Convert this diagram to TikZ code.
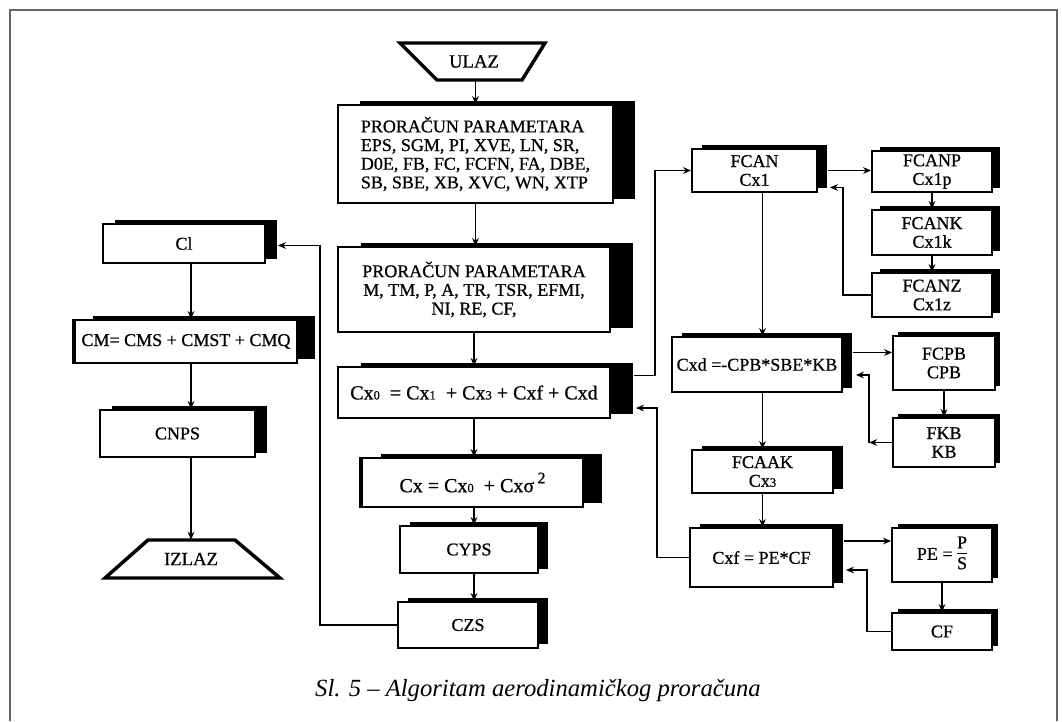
\documentclass[tikz,border=0pt]{standalone}
\usepackage{fontspec}
\setmainfont{Liberation Serif}
\newfontfamily\heavy[FakeBold=0.7]{Liberation Serif}
\usetikzlibrary{arrows.meta,shadows,calc}
\newcommand\smdig[1]{{\fontsize{9.5}{10}\selectfont #1}}
\begin{document}
\begin{tikzpicture}[x=0.75pt,y=-0.75pt,
  sbox/.style={draw, line width=1.4pt, fill=white, align=center, inner sep=1pt,
    font=\heavy\fontsize{13.5}{14}\selectfont,
    general shadow={fill=black, shadow xshift=#1, shadow yshift=3pt}},
  arr/.style={-{Stealth[length=6pt,width=5pt]}, line width=0.9pt},
  trap/.style={line width=2.6pt, line join=miter},
  big/.style={font=\heavy\fontsize{15}{16}\selectfont}]
\useasboundingbox (0,0) rectangle (1062,721);
% frame
\draw[black!60, line width=1.2pt] (10,721) -- (10,10) -- (1057,10) -- (1057,721);

% trapezia
\draw[trap] (400,43) -- (545,43) -- (522,80) -- (437,80) -- cycle;
\node[minimum height=27.75pt, inner sep=0pt, font=\heavy\fontsize{14}{14}\selectfont] (ulaz) at (474,61.5) {ULAZ};
\draw[trap] (148,540) -- (235,540) -- (280,578) -- (105,578) -- cycle;
\node[minimum height=28.5pt, inner sep=0pt, font=\heavy\fontsize{14}{14}\selectfont] (izlaz) at (191,559) {IZLAZ};

% main column
\node[sbox=16.5pt, minimum width=206.25pt, minimum height=73.5pt, align=left] (box1) at (475.5,154)
  {PRORAČUN PARAMETARA\\EPS, SGM, PI, XVE, LN, SR,\\D0E, FB, FC, FCFN, FA, DBE,\\SB, SBE, XB, XVC, WN, XTP};
\node[sbox=17.25pt, minimum width=204pt, minimum height=63.75pt] (box2) at (474,289.5)
  {PRORAČUN PARAMETARA\\M, TM, P, A, TR, TSR, EFMI,\\NI, RE, CF,};
\node[sbox=17.25pt, minimum width=204pt, minimum height=38.25pt, big] (cx0) at (474,392.5)
  {Cx\smdig{0}\ \ = Cx\smdig{1}\ \ + Cx\smdig{3} + Cxf + Cxd};
\node[sbox=14.25pt, minimum width=165.75pt, minimum height=36.75pt, big] (cx) at (472.5,482.5)
  {Cx = Cx\smdig{0}\ \ + Cxσ\,\raisebox{0.45em}{\fontsize{12}{12}\selectfont 2}};
\node[sbox=7.5pt, minimum width=103.5pt, minimum height=35.25pt] (cyps) at (469,549.5) {CYPS};
\node[sbox=7.5pt, minimum width=105pt, minimum height=34.5pt] (czs) at (468,625) {CZS};

% left column
\node[sbox=9pt, minimum width=121.5pt, minimum height=29.25pt] (cl) at (184,243.5) {Cl};
\node[sbox=13.5pt, minimum width=166.5pt, minimum height=32.25pt] (cm) at (186,341.5) {CM= CMS + CMST + CMQ};
\node[sbox=9pt, minimum width=116.25pt, minimum height=35.25pt] (cnps) at (177.5,433.5) {CNPS};
\draw[line width=3pt] (cx.north west) -- (cx.south west);
\draw[line width=3pt] (cm.north west) -- (cm.south west);

% right part
\node[sbox=7.5pt, minimum width=93.75pt, minimum height=32.25pt] (fcan) at (754.5,170.5) {FCAN\\Cx1};
\node[sbox=6pt, minimum width=90pt, minimum height=30.75pt] (fcanp) at (932,171.5) {FCANP\\Cx1p};
\node[sbox=6pt, minimum width=90pt, minimum height=33.75pt] (fcank) at (932,232.5) {FCANK\\Cx1k};
\node[sbox=6pt, minimum width=90pt, minimum height=33pt] (fcanz) at (932,295) {FCANZ\\Cx1z};
\node[sbox=7.5pt, minimum width=127.5pt, minimum height=41.25pt] (cxd) at (757,364.5) {Cxd =-CPB*SBE*KB};
\node[sbox=3.75pt, minimum width=76.5pt, minimum height=40.5pt] (fcpb) at (944,363) {FCPB\\CPB};
\node[sbox=3.75pt, minimum width=76.5pt, minimum height=36.75pt] (fkb) at (944,442.5) {FKB\\KB};
\node[sbox=7.5pt, minimum width=105.75pt, minimum height=32.25pt] (fcaak) at (762.5,471.5) {FCAAK\\Cx\smdig{3}};
\node[sbox=7.5pt, minimum width=107.25pt, minimum height=44.25pt] (cxf) at (761.5,557.5) {Cxf = PE*CF};
\node[sbox=4.5pt, minimum width=75pt, minimum height=40.5pt] (pe) at (942,555)
  {PE = \begin{tabular}{@{}c@{}}P\\[-1pt]\hline\rule{0pt}{12pt}S\end{tabular}};
\node[sbox=4.5pt, minimum width=75pt, minimum height=27.75pt] (cf) at (942,631.5) {CF};

% connectors main column
\draw[arr] (box1.north |- ulaz.south) -- (box1.north);
\draw[arr] (box1.south) -- (box1.south |- box2.north);
\draw[arr] (box2.south) -- (box2.south |- cx0.north);
\draw[arr] (cx0.south) -- (cx0.south |- cx.north);
\draw[arr] (cx0.south |- cx.south) -- (cx0.south |- cyps.north);
\draw[arr] (cx0.south |- cyps.south) -- (cx0.south |- czs.north);
\coordinate (clin) at ($(cl.east)+(12,2)$);
\draw[arr] (czs.west) -- ++(-77,0) |- (clin);

% left column
\draw[arr] (cl.south -| izlaz.north) -- (cm.north -| izlaz.north);
\draw[arr] (cm.south -| izlaz.north) -- (cnps.north -| izlaz.north);
\draw[arr] (cnps.south -| izlaz.north) -- (izlaz.north);

% right part
\coordinate (a1) at ($(cx0.east)+(23,-17)$);
\draw[arr] (a1) -| ($(fcan.west)+(-36,0)$) -- (fcan.west);
\coordinate (a2) at ($(fcan.east)+(10,0)$);
\draw[arr] (a2) -- (a2 -| fcanp.west);
\draw[arr] (fcanp.south) -- (fcank.north);
\draw[arr] (fcank.south) -- (fcanz.north);
\coordinate (a3) at ($(fcan.east)+(12,17)$);
\draw[arr] (fcanz.west) -| ($(a3)+(13,0)$) -- (a3);
\draw[arr] ([xshift=6pt]fcan.south) -- ([xshift=6pt]fcan.south |- cxd.north);
\coordinate (a4) at ($(cxd.east)+(10,-12)$);
\draw[arr] (a4) -- (a4 -| fcpb.west);
\draw[arr] (fcpb.south) -- (fkb.north);
\coordinate (a5) at ($(cxd.east)+(13,10.5)$);
\coordinate (a6) at ($(fkb.west)+(-23,0)$);
\draw[arr] (fkb.west) -- (a6);
\draw[arr] (a6) |- (a5);
\draw[arr] (fcaak.north |- cxd.south) -- (fcaak.north);
\draw[arr] (fcaak.south) -- (fcaak.south |- cxf.north);
\coordinate (a7) at ($(cx0.east)+(25,15.5)$);
\draw[arr] (cxf.west) -- ++(-32,0) |- (a7);
\coordinate (a8) at ($(cxf.east)+(10,-16.5)$);
\draw[arr] (a8) -- (a8 -| pe.west);
\draw[arr] (pe.south) -- (pe.south |- cf.north);
\coordinate (a9) at ($(cxf.east)+(12,12.5)$);
\draw[arr] (cf.west) -- ++(-24,0) |- (a9);

% caption
\node[font=\fontsize{18.5}{20}\selectfont\itshape] (cap) at (538,691) {Sl. 5 -- Algoritam aerodinamičkog proračuna};
\end{tikzpicture}
\end{document}
